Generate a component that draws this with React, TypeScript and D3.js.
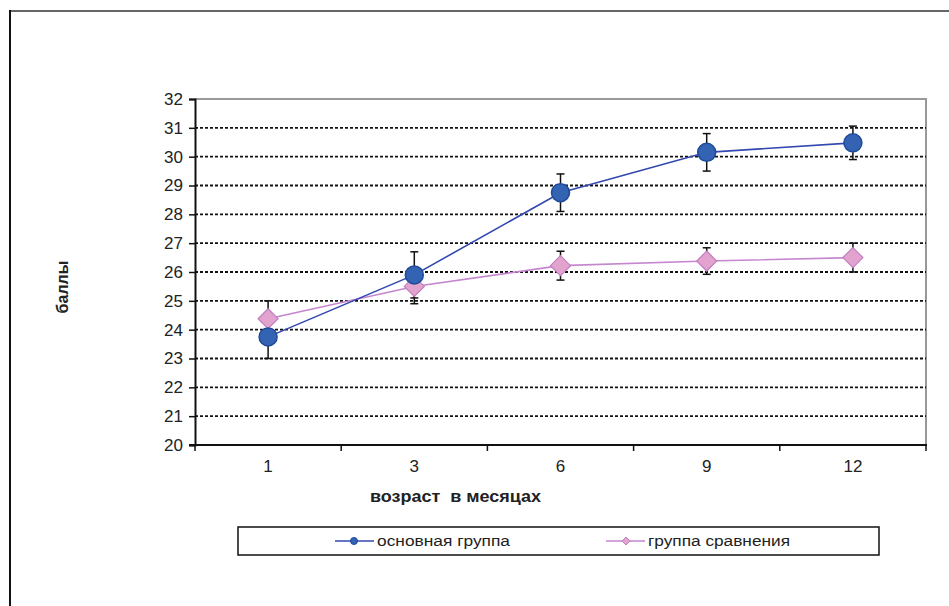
import React, { useRef, useEffect } from 'react';
import * as d3 from 'd3';

// categories (age in months)
const months = ['1', '3', '6', '9', '12'];
// main group: means and error half-widths
const mainValues = [23.75, 25.9, 28.75, 30.15, 30.48];
const mainErrors = [0.75, 0.8, 0.65, 0.65, 0.58];
// comparison group
const compValues = [24.38, 25.5, 26.22, 26.38, 26.5];
const compErrors = [0.62, 0.6, 0.5, 0.46, 0.5];
const yTicks = [20, 21, 22, 23, 24, 25, 26, 27, 28, 29, 30, 31, 32];

const seriesNames = ['основная группа', 'группа сравнения'];

const App = () => {
  const svgRef = useRef<SVGSVGElement>(null);

  useEffect(() => {
    const svg = d3.select(svgRef.current);
    svg.selectAll('*').remove();

    const width = 949;
    const height = 606;
    const plot = { left: 195, right: 926, top: 99, bottom: 445 };
    const font = 'Liberation Sans, Arial, sans-serif';

    svg.attr('width', width).attr('height', height);

    // outer frame
    svg.append('line').attr('x1', 9).attr('x2', width).attr('y1', 11).attr('y2', 11)
      .attr('stroke', '#666').attr('stroke-width', 2);
    svg.append('line').attr('x1', 10).attr('x2', 10).attr('y1', 10).attr('y2', height)
      .attr('stroke', '#111').attr('stroke-width', 2);

    const x = d3.scaleBand().domain(months).range([plot.left, plot.right]);
    const y = d3.scaleLinear().domain([20, 32]).range([plot.bottom, plot.top]);
    const cx = (m: string) => (x(m) as number) + x.bandwidth() / 2;

    // plot area border (top and right, grey)
    svg.append('path')
      .attr('d', `M${plot.left},${plot.top}H${plot.right}V${plot.bottom}`)
      .attr('fill', 'none').attr('stroke', '#999').attr('stroke-width', 2);

    // dashed gridlines
    svg.append('g').selectAll('line')
      .data(yTicks.filter((t) => t !== 20 && t !== 32))
      .enter().append('line')
      .attr('x1', plot.left).attr('x2', plot.right)
      .attr('y1', (d) => y(d)).attr('y2', (d) => y(d))
      .attr('stroke', '#111').attr('stroke-width', 1.8).attr('stroke-dasharray', '3,2');

    // y axis
    const yAxis = svg.append('g')
      .attr('transform', `translate(${plot.left},0)`)
      .call(d3.axisLeft(y).tickValues(yTicks).tickSize(6).tickPadding(6).tickFormat(d3.format('d')));
    yAxis.select('.domain').attr('stroke', '#111').attr('stroke-width', 2);
    yAxis.selectAll('.tick line').attr('stroke', '#111').attr('stroke-width', 1.5);
    yAxis.selectAll('.tick text').attr('font-family', font).attr('font-size', 17).attr('fill', '#222');

    // x axis with ticks between categories
    svg.append('line').attr('x1', plot.left - 6).attr('x2', plot.right + 1)
      .attr('y1', plot.bottom).attr('y2', plot.bottom)
      .attr('stroke', '#111').attr('stroke-width', 2);
    const bounds = months.map((m) => x(m) as number).concat([plot.right]);
    svg.append('g').selectAll('line').data(bounds).enter().append('line')
      .attr('x1', (d) => d).attr('x2', (d) => d)
      .attr('y1', plot.bottom).attr('y2', plot.bottom + 6)
      .attr('stroke', '#111').attr('stroke-width', 1.5);
    svg.append('g').selectAll('text').data(months).enter().append('text')
      .attr('x', (d) => cx(d)).attr('y', plot.bottom + 27)
      .attr('text-anchor', 'middle')
      .attr('font-family', font).attr('font-size', 17).attr('fill', '#222')
      .text((d) => d);

    // axis titles
    svg.append('text')
      .attr('x', 370).attr('y', 502)
      .attr('textLength', 171).attr('lengthAdjust', 'spacingAndGlyphs')
      .attr('font-family', font).attr('font-size', 16).attr('font-weight', 'bold').attr('fill', '#222')
      .attr('xml:space', 'preserve')
      .text('возраст  в месяцах');
    svg.append('text')
      .attr('transform', 'translate(68,287) rotate(-90)')
      .attr('text-anchor', 'middle')
      .attr('font-family', font).attr('font-size', 16).attr('font-weight', 'bold').attr('fill', '#222')
      .text('баллы');

    const line = d3.line<number>().x((_, i) => cx(months[i])).y((d) => y(d));

    const series = [
      { values: mainValues, errors: mainErrors, line: '#3348b0', fill: '#3563b3', stroke: '#1f4a9a', shape: 'circle' },
      { values: compValues, errors: compErrors, line: '#c586cf', fill: '#e3a3cf', stroke: '#c07fbf', shape: 'diamond' },
    ];

    // error bars
    series.forEach((s) => {
      const g = svg.append('g');
      s.values.forEach((v, i) => {
        const px = cx(months[i]);
        const top = y(v + s.errors[i]);
        const bot = y(v - s.errors[i]);
        g.append('line').attr('x1', px).attr('x2', px).attr('y1', top).attr('y2', bot)
          .attr('stroke', '#111').attr('stroke-width', 1.5);
        [top, bot].forEach((yy) => {
          g.append('line').attr('x1', px - 4).attr('x2', px + 4).attr('y1', yy).attr('y2', yy)
            .attr('stroke', '#111').attr('stroke-width', 1.5);
        });
      });
    });

    // lines and markers (comparison drawn first, main on top)
    [series[1], series[0]].forEach((s) => {
      svg.append('path').datum(s.values).attr('d', line)
        .attr('fill', 'none').attr('stroke', s.line).attr('stroke-width', 1.6);
    });
    [series[1], series[0]].forEach((s) => {
      const g = svg.append('g');
      s.values.forEach((v, i) => {
        const px = cx(months[i]);
        const py = y(v);
        if (s.shape === 'circle') {
          g.append('circle').attr('cx', px).attr('cy', py).attr('r', 9)
            .attr('fill', s.fill).attr('stroke', s.stroke).attr('stroke-width', 1.5);
        } else {
          const r = 10;
          g.append('path')
            .attr('d', `M${px},${py - r}L${px + r},${py}L${px},${py + r}L${px - r},${py}Z`)
            .attr('fill', s.fill).attr('stroke', s.stroke).attr('stroke-width', 1.2);
        }
      });
    });

    // legend
    const legend = svg.append('g');
    legend.append('rect').attr('x', 238).attr('y', 527).attr('width', 641).attr('height', 28)
      .attr('fill', 'white').attr('stroke', '#111').attr('stroke-width', 1.5);
    const legendX = [335, 606];
    const legendTextW = [133, 142];
    series.forEach((s, i) => {
      const lx = legendX[i];
      const ly = 541;
      legend.append('line').attr('x1', lx).attr('x2', lx + 39).attr('y1', ly).attr('y2', ly)
        .attr('stroke', s.line).attr('stroke-width', 1.6);
      if (s.shape === 'circle') {
        legend.append('circle').attr('cx', lx + 19).attr('cy', ly).attr('r', 3.5)
          .attr('fill', s.fill).attr('stroke', s.stroke);
      } else {
        const r = 4;
        const mx = lx + 20;
        legend.append('path')
          .attr('d', `M${mx},${ly - r}L${mx + r},${ly}L${mx},${ly + r}L${mx - r},${ly}Z`)
          .attr('fill', s.fill).attr('stroke', s.stroke);
      }
      legend.append('text').attr('x', lx + 42).attr('y', ly + 5)
        .attr('textLength', legendTextW[i]).attr('lengthAdjust', 'spacingAndGlyphs')
        .attr('font-family', font).attr('font-size', 14).attr('fill', '#222')
        .text(seriesNames[i]);
    });
  }, []);

  return <svg ref={svgRef} style={{ position: 'absolute', left: 0, top: 0 }} />;
};

export default App;
